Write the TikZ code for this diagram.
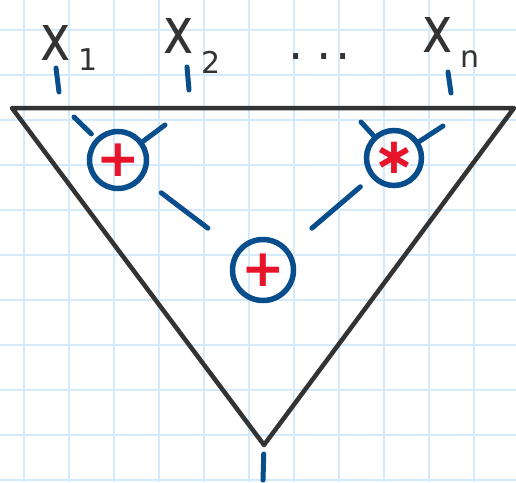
\documentclass[tikz,border=0pt]{standalone}
\usepackage{graphicx}
\usepackage{fontspec}
\setmainfont{DejaVu Sans}
\definecolor{gridblue}{RGB}{212,234,250}
\definecolor{wireblue}{RGB}{8,77,140}
\definecolor{opred}{RGB}{232,20,42}
\definecolor{pengray}{RGB}{51,51,51}
\newcommand{\xlab}[2]{\scalebox{0.8}[1]{x}\kern8pt\raisebox{-#2pt}{\fontsize{30}{30}\selectfont #1}}

\begin{document}
\begin{tikzpicture}[x=1pt, y=-1pt,
    gridline/.style={gridblue, line width=2pt},
    wire/.style={wireblue, line width=5pt, line cap=round},
    op/.style={circle, draw=wireblue, line width=5.5pt, inner sep=0pt, text=opred},
    lbl/.style={text=pengray, font=\fontsize{64}{64}\selectfont, inner sep=0pt, anchor=base west}]
    \fill[white] (0,0) rectangle (516,482);
    \useasboundingbox (0,0) rectangle (516,482);

    % squared paper
    \foreach \gx in {24,69,...,474}
        \draw[gridline] (\gx,0) -- (\gx,482);
    \foreach \gy in {30,75,...,480}
        \draw[gridline] (0,\gy) -- (516,\gy);

    \coordinate (tl) at (12,108);
    \coordinate (tr) at (514,108);
    \coordinate (apex) at (264,445);
    \draw[pengray, line width=4.5pt, line join=round] (tl) -- (tr) -- (apex) -- cycle;

    % inputs
    \node[lbl] (x1) at (40,60) {\xlab{1}{10}};
    \node[lbl] (x2) at (163,53) {\xlab{2}{20}};
    \node[lbl, font=\fontsize{48}{48}\selectfont] (dots) at (288,59) {.\kern13pt.\kern4pt.};
    \node[lbl] (xn) at (422,52) {\xlab{n}{15}};

    \coordinate (tick1) at (56,68);
    \coordinate (tick2) at (187,67);
    \coordinate (tickn) at (448,72);
    \draw[wire] (tick1) -- ++(3,24);
    \draw[wire] (tick2) -- ++(2,23);
    \draw[wire] (tickn) -- ++(3,21);

    % gates
    \node[op, minimum size=57pt, font=\fontsize{52}{52}\bfseries] (sumL) at (118,160) {+};
    \node[op, minimum size=55pt, font=\fontsize{50}{50}\bfseries] (mulR) at (394,158) {∗};
    \node[op, minimum size=61pt, font=\fontsize{52}{52}\bfseries] (sumB) at (263,270) {+};

    \coordinate (inL1) at (74,117);
    \coordinate (inL2) at (165,125);
    \coordinate (inR1) at (361,122);
    \coordinate (inR2) at (443,126);
    \coordinate (out) at (263,480);

    \draw[wire, shorten >=6pt] (inL1) -- (sumL);
    \draw[wire] (inL2) -- (sumL);
    \draw[wire] (inR1) -- (mulR);
    \draw[wire] (inR2) -- (mulR);
    \draw[wire, shorten <=23pt, shorten >=36pt] (sumL) -- (sumB);
    \draw[wire, shorten <=14pt, shorten >=31pt] (mulR) -- (sumB);
    \draw[wire, shorten <=9pt] (apex) -- (out);
\end{tikzpicture}
\end{document}
